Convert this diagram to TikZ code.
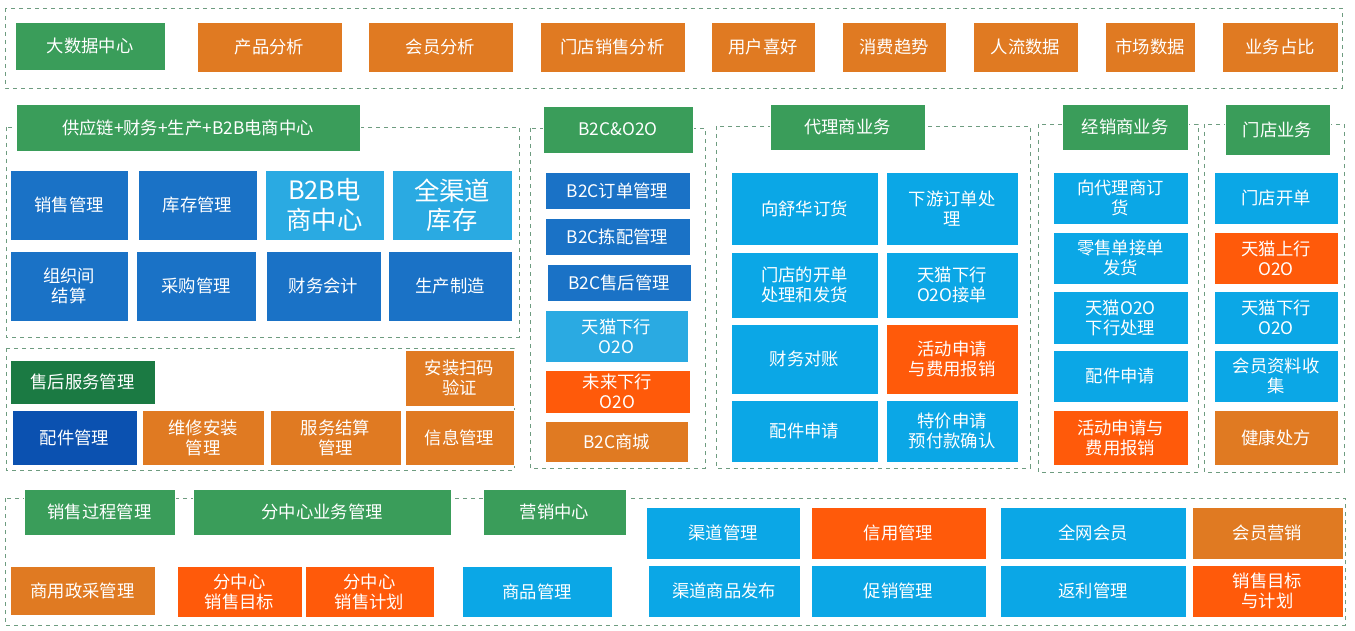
\documentclass[tikz,border=0pt]{standalone}
\usepackage{fontspec}
\setmainfont{Noto Sans CJK SC}
\definecolor{cgreen}{HTML}{3A9D5A}
\definecolor{cdgreen}{HTML}{1B7A43}
\definecolor{cblue}{HTML}{1A72C6}
\definecolor{cdblue}{HTML}{0B51B0}
\definecolor{clight}{HTML}{2AAAE2}
\definecolor{ccyan}{HTML}{0BA7E6}
\definecolor{corange}{HTML}{E07A22}
\definecolor{cred}{HTML}{FF5A0A}
\definecolor{cframe}{HTML}{6E9C80}
\tikzset{
  box/.style={draw=white,line width=0.6pt,text=white,align=center,inner sep=1pt,
    font=\fontsize{13}{15}\selectfont},
  frame/.style={draw=cframe,dashed,line width=0.6pt},
  big/.style={font=\fontsize{19}{22}\selectfont}
}
% box: name, x1, y1, x2, y2, colour, text
\newcommand{\bx}[8][]{\node[box,fill=#7,#1,minimum width={(#5-#3)*0.75pt},
  minimum height={(#6-#4)*0.75pt}] (#2) at ({(#3+#5)/2},{(#4+#6)/2}) {#8};}
\begin{document}
\begin{tikzpicture}[x=0.75pt,y=-0.75pt]
\useasboundingbox (0,0) rectangle (1355,631);
% frames
\draw[frame] (5,8) rectangle (1342,88);
\draw[frame] (6,127) rectangle (519,337);
\draw[frame] (6,348) rectangle (514,470);
\draw[frame] (530,128) rectangle (705,468);
\draw[frame] (716,126) rectangle (1030,468);
\draw[frame] (1038,124) rectangle (1198,472);
\draw[frame] (1204,124) rectangle (1344,472);
\draw[frame] (5,498) rectangle (1345,625);
% big data
\bx{bigdata}{15}{22}{165}{70}{cgreen}{大数据中心}
\bx{prod}{197}{22}{342}{72}{corange}{产品分析}
\bx{member}{368}{22}{513}{72}{corange}{会员分析}
\bx{storesale}{540}{22}{685}{72}{corange}{门店销售分析}
\bx{pref}{711}{22}{815}{72}{corange}{用户喜好}
\bx{trend}{842}{22}{946}{72}{corange}{消费趋势}
\bx{flow}{973}{22}{1078}{72}{corange}{人流数据}
\bx{market}{1105}{22}{1195}{72}{corange}{市场数据}
\bx{share}{1222}{22}{1338}{72}{corange}{业务占比}
% supply chain
\bx{scm}{16}{104}{360}{151}{cgreen}{供应链+财务+生产+B2B电商中心}
\bx{sales}{10}{170}{128}{240}{cblue}{销售管理}
\bx{stock}{138}{170}{257}{240}{cblue}{库存管理}
\bx[big]{btob}{265}{170}{384}{240}{clight}{B2B电\\商中心}
\bx[big]{allstock}{392}{170}{512}{240}{clight}{全渠道\\库存}
\bx{settle}{10}{251}{128}{321}{cblue}{组织间\\结算}
\bx{purchase}{136}{251}{256}{321}{cblue}{采购管理}
\bx{finance}{266}{251}{381}{321}{cblue}{财务会计}
\bx{produce}{388}{251}{512}{321}{cblue}{生产制造}
% after sales
\bx{service}{10}{360}{155}{404}{cdgreen}{售后服务管理}
\bx{scan}{405}{350}{514}{406}{corange}{安装扫码\\验证}
\bx{parts}{12}{410}{137}{465}{cdblue}{配件管理}
\bx{repair}{142}{410}{264}{465}{corange}{维修安装\\管理}
\bx{svcsettle}{270}{410}{401}{465}{corange}{服务结算\\管理}
\bx{info}{405}{410}{514}{465}{corange}{信息管理}
% b2c
\bx{btoc}{543}{106}{693}{153}{cgreen}{B2C\&O2O}
\bx{order}{545}{172}{690}{209}{cblue}{B2C订单管理}
\bx{pick}{545}{218}{690}{255}{cblue}{B2C拣配管理}
\bx{after}{547}{264}{691}{301}{cblue}{B2C售后管理}
\bx{tmdown}{545}{310}{688}{362}{clight}{天猫下行\\O2O}
\bx{wldown}{545}{370}{690}{413}{cred}{未来下行\\O2O}
\bx{mall}{545}{421}{688}{462}{corange}{B2C商城}
% agent
\bx{agent}{770}{104}{925}{150}{cgreen}{代理商业务}
\bx{agorder}{731}{172}{878}{245}{ccyan}{向舒华订货}
\bx{agdown}{886}{172}{1018}{245}{ccyan}{下游订单处\\理}
\bx{agstore}{731}{252}{878}{318}{ccyan}{门店的开单\\处理和发货}
\bx{agtm}{886}{252}{1018}{318}{ccyan}{天猫下行\\O2O接单}
\bx{agcheck}{731}{324}{878}{394}{ccyan}{财务对账}
\bx{agact}{886}{324}{1018}{394}{cred}{活动申请\\与费用报销}
\bx{agparts}{731}{400}{878}{462}{ccyan}{配件申请}
\bx{agprice}{886}{400}{1018}{462}{ccyan}{特价申请\\预付款确认}
% dealer
\bx{dealer}{1062}{104}{1188}{150}{cgreen}{经销商业务}
\bx{dlorder}{1053}{172}{1188}{224}{ccyan}{向代理商订\\货}
\bx{dlretail}{1053}{232}{1188}{284}{ccyan}{零售单接单\\发货}
\bx{dltm}{1053}{291}{1188}{344}{ccyan}{天猫O2O\\下行处理}
\bx{dlparts}{1053}{350}{1188}{402}{ccyan}{配件申请}
\bx{dlact}{1053}{410}{1188}{465}{cred}{活动申请与\\费用报销}
% store
\bx{store}{1225}{104}{1330}{155}{cgreen}{门店业务}
\bx{stopen}{1214}{172}{1338}{224}{ccyan}{门店开单}
\bx{stup}{1214}{232}{1338}{284}{cred}{天猫上行\\O2O}
\bx{stdown}{1214}{291}{1338}{344}{ccyan}{天猫下行\\O2O}
\bx{stinfo}{1214}{350}{1338}{402}{ccyan}{会员资料收\\集}
\bx{sthealth}{1214}{410}{1338}{465}{corange}{健康处方}
% bottom
\bx{process}{24}{489}{175}{535}{cgreen}{销售过程管理}
\bx{branch}{193}{489}{451}{535}{cgreen}{分中心业务管理}
\bx{mkt}{483}{489}{626}{535}{cgreen}{营销中心}
\bx{gov}{10}{566}{155}{615}{corange}{商用政采管理}
\bx{brtarget}{177}{566}{302}{617}{cred}{分中心\\销售目标}
\bx{brplan}{305}{566}{434}{617}{cred}{分中心\\销售计划}
\bx{goods}{462}{566}{612}{617}{ccyan}{商品管理}
\bx{channel}{646}{507}{800}{559}{ccyan}{渠道管理}
\bx{credit}{811}{507}{986}{559}{cred}{信用管理}
\bx{allmem}{1000}{507}{1186}{559}{ccyan}{全网会员}
\bx{memmkt}{1192}{507}{1343}{559}{corange}{会员营销}
\bx{chgoods}{648}{565}{800}{617}{ccyan}{渠道商品发布}
\bx{promo}{811}{565}{986}{617}{ccyan}{促销管理}
\bx{rebate}{1000}{565}{1186}{617}{ccyan}{返利管理}
\bx{target}{1192}{565}{1343}{617}{cred}{销售目标\\与计划}
\end{tikzpicture}
\end{document}
